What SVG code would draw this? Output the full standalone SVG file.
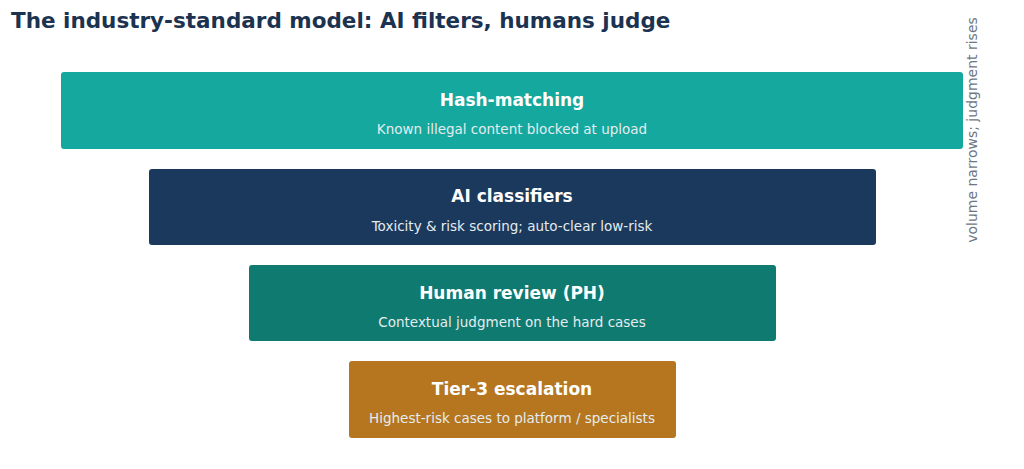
<svg xmlns="http://www.w3.org/2000/svg" width="1024" height="469" viewBox="0 0 1024 469">
<style>
.t{font-family:"DejaVu Sans",sans-serif;font-weight:bold;font-size:17px;fill:#fff;text-anchor:middle}
.s{font-family:"DejaVu Sans",sans-serif;font-size:13.5px;fill:#e4ecef;text-anchor:middle}
</style>
<rect width="1024" height="469" fill="#fff"/>
<text x="11" y="28" font-family="DejaVu Sans,sans-serif" font-weight="bold" font-size="21.5" fill="#1b3350">The industry-standard model: AI filters, humans judge</text>
<g id="hash"><rect x="61" y="72" width="902" height="77" rx="3" fill="#14a89e"/><text class="t" x="512" y="106">Hash-matching</text><text class="s" x="512" y="134">Known illegal content blocked at upload</text></g>
<g id="ai"><rect x="149" y="169" width="727" height="76" rx="3" fill="#1b385d"/><text class="t" x="512" y="202">AI classifiers</text><text class="s" x="512" y="231">Toxicity &amp; risk scoring; auto-clear low-risk</text></g>
<g id="human"><rect x="249" y="265" width="527" height="76" rx="3" fill="#0f7a70"/><text class="t" x="512" y="299">Human review (PH)</text><text class="s" x="512" y="327">Contextual judgment on the hard cases</text></g>
<g id="tier3"><rect x="349" y="361" width="327" height="77" rx="3" fill="#b5761f"/><text class="t" x="512" y="395">Tier-3 escalation</text><text class="s" x="512" y="423">Highest-risk cases to platform / specialists</text></g>
<g id="connectors"></g>
<text transform="translate(977,130) rotate(-90)" text-anchor="middle" font-family="DejaVu Sans,sans-serif" font-size="14" fill="#6b7785">volume narrows; judgment rises</text>
</svg>
